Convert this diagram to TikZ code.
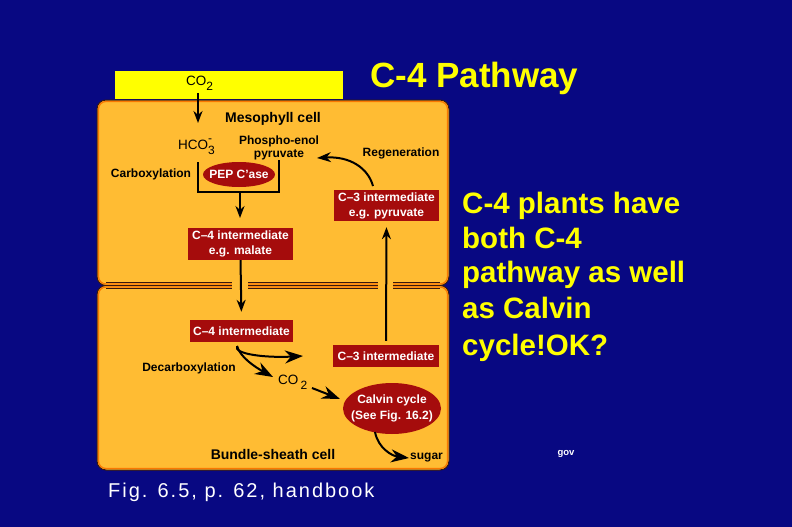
\documentclass[tikz,border=0pt]{standalone}
\usepackage{fontspec}
\setmainfont{Liberation Sans}
\newfontfamily\capfont[LetterSpace=10]{Liberation Sans}
\usetikzlibrary{shapes.geometric,arrows.meta}
\definecolor{navybg}{RGB}{8,8,130}
\definecolor{cellfill}{RGB}{255,188,51}
\definecolor{celldark}{RGB}{55,25,15}
\definecolor{orng}{RGB}{250,120,0}
\definecolor{dred}{RGB}{165,12,12}
\definecolor{ylw}{RGB}{255,255,0}
\newcommand\lowsub[1]{\raisebox{-0.42em}{\fontsize{12}{13}\selectfont #1}}
\newcommand\highsup[1]{\raisebox{0.5em}{\fontsize{12}{13}\selectfont #1}}
\begin{document}
\begin{tikzpicture}[x=1pt,y=-1pt,
  lbl/.style={font=\fontsize{12}{14}\selectfont\bfseries, inner sep=0pt, anchor=base},
  celllbl/.style={font=\fontsize{14}{16}\selectfont\bfseries, inner sep=0pt, anchor=base},
  chem/.style={font=\fontsize{13.5}{15}\selectfont, inner sep=0pt, anchor=base west},
  redbox/.style={fill=dred, text=white, font=\fontsize{12}{15}\selectfont\bfseries, align=center, inner sep=0pt},
  redell/.style={ellipse, fill=dred, inner sep=0pt},
  whitetxt/.style={text=white, font=\fontsize{12}{15.5}\selectfont\bfseries, align=center, inner sep=0pt},
  arr/.style={-{Stealth[length=12pt,width=9pt]}, line width=2pt},
  bigarr/.style={-{Stealth[length=18pt,width=13pt]}, line width=2pt},
  bigtext/.style={text=ylw, font=\fontsize{29.5}{35}\selectfont\bfseries, inner sep=0pt, anchor=base west},
]
\useasboundingbox (0,0) rectangle (792,527);
\fill[navybg] (0,0) rectangle (792,527);

% yellow bar
\fill[ylw] (115,71) rectangle (343,99);

% cells
\filldraw[fill=cellfill, draw=celldark, line width=1pt, rounded corners=9pt] (97,100) rectangle (449,285.5);
\draw[orng, line width=1.2pt, rounded corners=7.5pt] (98.5,101.5) rectangle (447.5,284);
\filldraw[fill=cellfill, draw=celldark, line width=1pt, rounded corners=9pt] (97,285.5) rectangle (449,470);
\draw[orng, line width=1.2pt, rounded corners=7.5pt] (98.5,287) rectangle (447.5,468.5);
% wall
\draw[celldark, line width=0.9pt] (106,282.6) -- (440,282.6) (106,288.4) -- (440,288.4);
\fill[cellfill] (232,280) rectangle (248,291);
\fill[cellfill] (378,280) rectangle (393,291);

% title and side text
\node[text=ylw, font=\fontsize{35}{40}\selectfont\bfseries, inner sep=0pt, anchor=base west] (title) at (370,88) {C-4 Pathway};
\node[bigtext] (t1) at (462,213) {C-4 plants have};
\node[bigtext] (t2) at (462,248) {both C-4};
\node[bigtext] (t3) at (462,282) {pathway as well};
\node[bigtext] (t4) at (462,318) {as Calvin};
\node[bigtext] (t5) at (462,355) {cycle!OK?};
\node[text=white, inner sep=0pt, anchor=base west, font=\capfont\fontsize{20}{22}\selectfont] (cap) at (108,497) {Fig. 6.5, p. 62, handbook};
\node[text=white, inner sep=0pt, anchor=base, font=\fontsize{9.5}{10}\selectfont\bfseries] (gov) at (566,455) {gov};

% mesophyll labels
\node[chem] (co2t) at (186,85) {CO\lowsub{2}};
\node[celllbl] (meso) at (273,122) {Mesophyll cell};
\node[chem] (hco) at (178,149) {HCO\rlap{\highsup{-}}\lowsub{3}};
\node[lbl] (phos1) at (279,144) {Phospho-enol};
\node[lbl] (phos2) at (279,157) {pyruvate};
\node[lbl] (regen) at (401,156) {Regeneration};
\node[lbl] (carb) at (151,177) {Carboxylation};
\node[redell, minimum width=72pt, minimum height=25pt] (pep) at (239,174.5) {};
\node[whitetxt] (peptxt) at (pep.center) {PEP C'ase};
\node[redbox, minimum width=105pt, minimum height=32pt] (c4a) at (240.5,244) {C--4 intermediate\\e.g. malate};
\node[redbox, minimum width=105pt, minimum height=31pt] (c3a) at (386.5,205.5) {C--3 intermediate\\e.g. pyruvate};

% bundle-sheath labels
\node[redbox, minimum width=103pt, minimum height=22pt] (c4b) at (241.5,331) {C--4 intermediate};
\node[redbox, minimum width=106pt, minimum height=22pt] (c3b) at (386,356) {C--3 intermediate};
\node[lbl] (decarb) at (189,371) {Decarboxylation};
\node[chem] (co2b) at (278,384) {CO\,\lowsub{2}};
\node[redell, minimum width=98pt, minimum height=51pt] (calvin) at (392,408.5) {};
\node[whitetxt] (calvintxt) at (calvin.center) {Calvin cycle\\(See Fig. 16.2)};
\node[celllbl] (bundle) at (273,459) {Bundle-sheath cell};
\node[lbl, anchor=base west] (sugar) at (410,459) {sugar};

% coordinates for connector ends
\coordinate (co2S) at (198,93);
\coordinate (co2E) at (198,123);
\coordinate (brA) at (198,162);
\coordinate (brB) at (198,192);
\coordinate (brC) at (279,192);
\coordinate (brD) at (279,160);
\coordinate (brM) at (240,192);
\coordinate (brE) at (240,218);
\coordinate (regS) at (373,186);
\coordinate (regE) at (317,158);
\coordinate (dS) at (237,346);
\coordinate (d1E) at (303,356);
\coordinate (d2E) at (273,377);
\coordinate (cS) at (312,388);
\coordinate (cE) at (340,399);
\coordinate (sS) at (375,432);
\coordinate (sE) at (409,458);

% connectors
\draw[arr] (co2S) -- (co2E);
\draw[line width=1.5pt] (brA) -- (brB) -- (brC) -- (brD);
\draw[arr] (brM) -- (brE);
\draw[arr, shorten >=8pt] (c4a.south) -- (c4b.north);
\draw[arr, shorten <=4pt, shorten >=6pt] (c3b.north) -- (c3a.south);
\draw[arr, -{Stealth[length=14pt,width=10pt]}] (regS) .. controls (368,168) and (350,156) .. (regE);
\draw[bigarr] (dS) .. controls (233,354) and (265,358) .. (d1E);
\draw[bigarr] (dS) .. controls (240,357) and (255,367) .. (d2E);
\draw[bigarr] (cS) -- (cE);
\draw[bigarr] (sS) .. controls (378,448) and (392,456) .. (sE);
\end{tikzpicture}
\end{document}
